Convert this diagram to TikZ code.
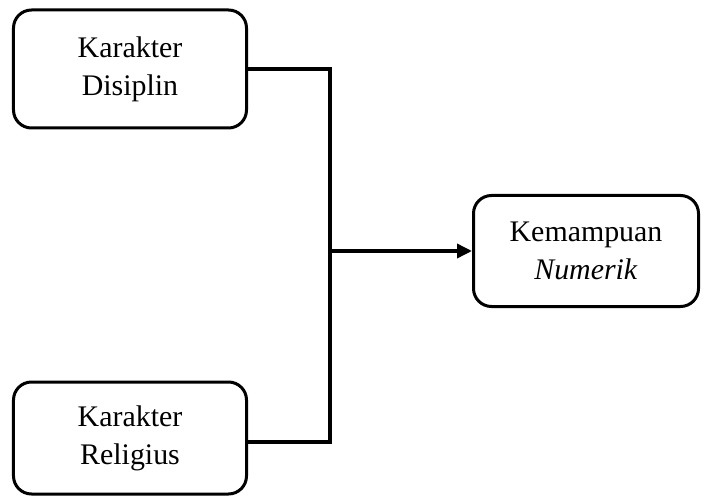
\documentclass[tikz,border=0pt]{standalone}
\usepackage{fontspec}
\setmainfont{Liberation Serif}
\usetikzlibrary{arrows.meta,positioning,calc}
\tikzset{
  varbox/.style={rectangle,rounded corners=18bp,draw=black,line width=3bp,
                 align=center,font=\fontsize{30}{38}\selectfont,
                 minimum width=233bp,minimum height=118bp,fill=white},
  link/.style={line width=3.5bp,color=black},
  arr/.style={link,-{Triangle[length=15bp,width=14bp]}}
}
\begin{document}
\begin{tikzpicture}[x=1bp,y=-1bp]
  \useasboundingbox (0,0) rectangle (706,497);
  \node[varbox] (disiplin) at (130,69) {Karakter\\Disiplin};
  \node[varbox,minimum height=112bp] (religius) at (130,438) {Karakter\\Religius};
  \node[varbox,minimum width=225bp,minimum height=111bp] (numerik) at (586,251)
    {Kemampuan\\\textit{Numerik}};
  \coordinate (join) at (330,251);
  \draw[link] (disiplin.east) -| (join) |- ($(religius.east)+(0,4)$);
  \draw[arr] (join) -- (numerik.west);
\end{tikzpicture}
\end{document}
